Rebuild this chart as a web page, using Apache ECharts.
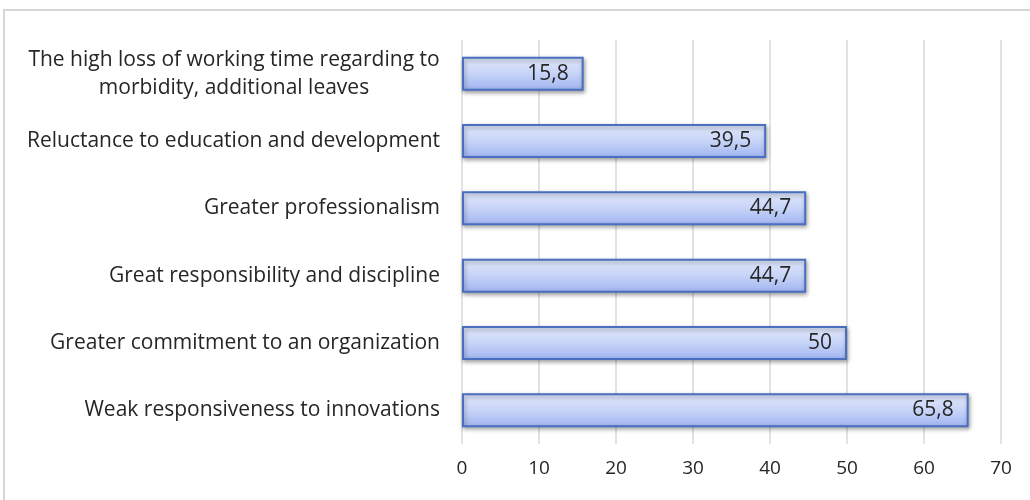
<!DOCTYPE html>
<html>
<head>
<meta charset="utf-8">
<script src="https://cdn.jsdelivr.net/npm/echarts@6/dist/echarts.min.js"></script>
<style>
  html, body { margin: 0; padding: 0; background: #ffffff; }
  #chart { width: 1030px; height: 500px; }
</style>
</head>
<body>
<div id="chart"></div>
<script>
// Categories listed top to bottom
const categories = [
  'The high loss of working time regarding to\nmorbidity, additional leaves',
  'Reluctance to education and development',
  'Greater professionalism',
  'Great responsibility and discipline',
  'Greater commitment to an organization',
  'Weak responsiveness to innovations'
];
const values = [15.8, 39.5, 44.7, 44.7, 50, 65.8];
const xTicks = [0, 10, 20, 30, 40, 50, 60, 70];

const chart = echarts.init(document.getElementById('chart'), null, { renderer: 'canvas' });

const fontFamily = '"Open Sans", Lato, sans-serif';
const textColor = '#262626';

chart.setOption({
  animation: false,
  backgroundColor: '#ffffff',
  graphic: [{
    type: 'rect',
    shape: { x: 4, y: 10, width: 1060, height: 520 },
    style: { fill: 'none', stroke: '#d6d6d6', lineWidth: 2 },
    z: -1
  }],
  grid: { left: 462, right: 29, top: 40, bottom: 56 },
  xAxis: {
    type: 'value',
    min: xTicks[0],
    max: xTicks[xTicks.length - 1],
    interval: 10,
    axisLine: { show: false },
    axisTick: { show: false },
    splitLine: { show: true, lineStyle: { color: '#d9d9d9', width: 1.5 } },
    axisLabel: {
      color: textColor,
      fontFamily: fontFamily,
      fontSize: 19,
      margin: 15,
      formatter: v => String(v)
    }
  },
  yAxis: {
    type: 'category',
    inverse: true,
    data: categories,
    axisLine: { show: false },
    axisTick: { show: false },
    axisLabel: {
      color: textColor,
      fontFamily: fontFamily,
      fontSize: 21,
      margin: 22,
      align: 'right',
      lineHeight: 28,
      formatter: function (v) {
        if (v.indexOf('\n') >= 0) {
          return v.split('\n').map(s => '{c|' + s + '}').join('\n');
        }
        return v;
      },
      rich: {
        c: {
          width: 412,
          align: 'center',
          color: textColor,
          fontFamily: fontFamily,
          fontSize: 21,
          lineHeight: 28
        }
      }
    }
  },
  series: [{
    type: 'bar',
    data: values,
    barWidth: 34,
    itemStyle: {
      color: new echarts.graphic.LinearGradient(0, 0, 0, 1, [
        { offset: 0, color: '#e2e9fc' },
        { offset: 0.5, color: '#c7d4f8' },
        { offset: 1, color: '#9fb3f0' }
      ]),
      borderColor: '#4a6fc0',
      borderWidth: 2,
      shadowColor: 'rgba(0,0,0,0.35)',
      shadowBlur: 4,
      shadowOffsetX: 1,
      shadowOffsetY: 2
    },
    label: {
      show: true,
      position: 'insideRight',
      distance: 15,
      color: textColor,
      fontFamily: fontFamily,
      fontSize: 21,
      formatter: p => String(p.value).replace('.', ',')
    }
  }]
});
</script>
</body>
</html>
